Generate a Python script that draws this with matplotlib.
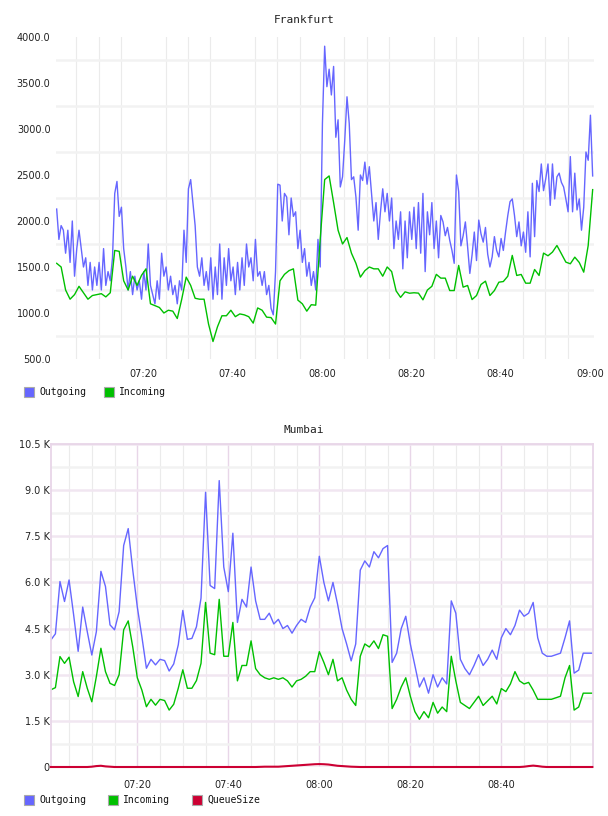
import numpy as np
import matplotlib
matplotlib.use('Agg')
import matplotlib.pyplot as plt
from matplotlib.patches import Rectangle

# --- Frankfurt: outgoing every 30 s, incoming every minute (start 07:00:36) ---
fra_out = [
    2130, 1800, 1950, 1900, 1650, 1900, 1550, 2000, 1400, 1700,
    1900, 1700, 1500, 1600, 1300, 1550, 1250, 1500, 1300, 1550,
    1250, 1700, 1300, 1450, 1350, 1600, 2300, 2430, 2050, 2150,
    1700, 1500, 1250, 1450, 1200, 1400, 1250, 1350, 1150, 1450,
    1250, 1750, 1300, 1200, 1100, 1350, 1150, 1650, 1400, 1500,
    1250, 1400, 1200, 1300, 1100, 1350, 1250, 1900, 1550, 2350,
    2450, 2200, 1950, 1500, 1400, 1600, 1300, 1450, 1250, 1600,
    1150, 1500, 1200, 1750, 1150, 1600, 1300, 1700, 1350, 1500,
    1200, 1550, 1250, 1600, 1300, 1750, 1500, 1600, 1350, 1800,
    1400, 1450, 1300, 1450, 1200, 1300, 1050, 980, 1450, 2400,
    2390, 2000, 2300, 2260, 1850, 2250, 2050, 2100, 1700, 1900,
    1550, 1700, 1400, 1550, 1300, 1450, 1250, 1800, 1500, 3060,
    3900, 3460, 3650, 3370, 3680, 2910, 3100, 2370, 2480, 2880,
    3350, 3060, 2450, 2480, 2260, 1900, 2500, 2440, 2640, 2400,
    2590, 2300, 2000, 2200, 1800, 2100, 2350, 2100, 2300, 2000,
    2250, 1700, 2000, 1800, 2100, 1480, 2000, 1600, 2100, 1800,
    2150, 1700, 2200, 1650, 2300, 1450, 2100, 1850, 2200, 1700,
    2000, 1600, 2060, 1990, 1840, 1930, 1790, 1680, 1540, 2500,
    2320, 1730, 1840, 1990, 1720, 1430, 1630, 1880, 1570, 2010,
    1860, 1770, 1930, 1640, 1500, 1610, 1830, 1680, 1610, 1810,
    1680, 1880, 2060, 2210, 2240, 2060, 1830, 1990, 1730, 1880,
    1660, 2100, 1610, 2410, 1830, 2440, 2320, 2620, 2330, 2460,
    2620, 2170, 2620, 2240, 2480, 2520, 2420, 2370, 2240, 2100,
    2700, 2100, 2520, 2120, 2240, 1900, 2150, 2750, 2660, 3150,
    2490,
]
fra_in = [
    1540, 1500, 1250, 1150, 1200, 1290, 1220, 1150, 1190, 1200,
    1210, 1175, 1220, 1680, 1670, 1350, 1250, 1400, 1300, 1410,
    1480, 1100, 1080, 1060, 1000, 1030, 1020, 940, 1150, 1390,
    1300, 1160, 1150, 1150, 880, 690, 850, 970, 970, 1030,
    960, 990, 980, 960, 890, 1055, 1030, 955, 950, 880,
    1350, 1420, 1460, 1480, 1140, 1100, 1020, 1090, 1085, 1800,
    2450, 2490, 2200, 1900, 1750, 1820, 1650, 1540, 1390, 1460,
    1500, 1480, 1480, 1400, 1500, 1450, 1240, 1170, 1230, 1215,
    1220, 1216, 1143, 1250, 1290, 1420, 1379, 1379, 1244, 1244,
    1517, 1281, 1299, 1146, 1190, 1310, 1346, 1190, 1244, 1335,
    1342, 1400, 1626, 1408, 1419, 1324, 1324, 1473, 1408, 1651,
    1622, 1662, 1734, 1644, 1553, 1535, 1607, 1549, 1444, 1734,
    2341,
]

# --- Mumbai: every minute from 07:01, values in thousands ---
mum_out = [
    4.13, 4.33, 6.03, 5.38, 6.08, 4.95, 3.76, 5.20, 4.40, 3.64,
    4.40, 6.36, 5.87, 4.62, 4.46, 5.05, 7.20, 7.75, 6.40, 5.20,
    4.24, 3.21, 3.50, 3.32, 3.50, 3.46, 3.12, 3.35, 3.97, 5.09,
    4.15, 4.18, 4.56, 5.49, 8.93, 5.90, 5.80, 9.31, 6.50, 5.70,
    7.60, 4.70, 5.45, 5.20, 6.50, 5.40, 4.80, 4.80, 5.00, 4.65,
    4.80, 4.50, 4.60, 4.35, 4.60, 4.80, 4.70, 5.20, 5.50, 6.85,
    6.00, 5.40, 6.00, 5.30, 4.50, 4.00, 3.45, 4.00, 6.40, 6.70,
    6.50, 7.00, 6.80, 7.10, 7.20, 3.40, 3.70, 4.50, 4.90, 4.00,
    3.30, 2.60, 2.90, 2.40, 3.00, 2.60, 2.90, 2.70, 5.40, 5.00,
    3.50, 3.20, 3.00, 3.30, 3.65, 3.30, 3.50, 3.80, 3.50, 4.20,
    4.50, 4.30, 4.60, 5.10, 4.90, 5.00, 5.35, 4.20, 3.70, 3.60,
    3.60, 3.65, 3.70, 4.20, 4.75, 3.05, 3.15, 3.70, 3.70, 3.70,
]
mum_in = [
    2.51, 2.58, 3.59, 3.37, 3.57, 2.77, 2.29, 3.10, 2.56, 2.12,
    2.94, 3.86, 3.10, 2.72, 2.65, 3.00, 4.46, 4.75, 3.90, 2.90,
    2.50, 1.96, 2.20, 2.01, 2.20, 2.16, 1.85, 2.04, 2.56, 3.16,
    2.56, 2.56, 2.81, 3.37, 5.35, 3.70, 3.65, 5.45, 3.60, 3.60,
    4.70, 2.80, 3.30, 3.30, 4.10, 3.20, 3.00, 2.90, 2.85, 2.90,
    2.85, 2.90, 2.80, 2.60, 2.80, 2.85, 2.95, 3.10, 3.10, 3.75,
    3.40, 3.00, 3.50, 2.80, 2.90, 2.50, 2.20, 2.00, 3.60, 4.00,
    3.90, 4.10, 3.85, 4.30, 4.25, 1.90, 2.20, 2.60, 2.90, 2.30,
    1.80, 1.55, 1.80, 1.60, 2.10, 1.75, 1.95, 1.80, 3.60, 2.80,
    2.10, 2.00, 1.90, 2.10, 2.30, 2.00, 2.15, 2.30, 2.05, 2.55,
    2.45, 2.70, 3.10, 2.80, 2.70, 2.75, 2.50, 2.20, 2.20, 2.20,
    2.20, 2.25, 2.30, 2.90, 3.30, 1.85, 1.95, 2.40, 2.40, 2.40,
]
mum_queue = [
    0, 0, 0, 0, 0, 0, 0, 0, 0, 0.01,
    0.03, 0.04, 0.02, 0.01, 0, 0, 0, 0, 0, 0,
    0, 0, 0, 0, 0, 0, 0, 0, 0, 0,
    0, 0, 0, 0, 0, 0, 0, 0, 0, 0,
    0, 0, 0, 0, 0, 0, 0.005, 0.01, 0.01, 0.01,
    0.01, 0.02, 0.03, 0.04, 0.05, 0.06, 0.07, 0.08, 0.09, 0.095,
    0.09, 0.08, 0.06, 0.04, 0.03, 0.02, 0.01, 0.005, 0, 0,
    0, 0, 0, 0, 0, 0, 0, 0, 0, 0,
    0, 0, 0, 0, 0, 0, 0, 0, 0, 0,
    0, 0, 0, 0, 0, 0, 0, 0, 0, 0,
    0, 0, 0, 0, 0.01, 0.03, 0.045, 0.03, 0.01, 0,
    0, 0, 0, 0, 0, 0, 0, 0, 0, 0,
]

# minutes after 07:00
fra_out_t = 0.6 + 0.5 * np.arange(len(fra_out))
fra_in_t = 0.6 + np.arange(len(fra_in))
mum_t = 1.0 + np.arange(len(mum_out))

time_ticks = [20, 40, 60, 80, 100, 120]
time_labels = ['07:20', '07:40', '08:00', '08:20', '08:40', '09:00']
fra_yticks = [500, 1000, 1500, 2000, 2500, 3000, 3500, 4000]
mum_yticks = [0, 1.5, 3.0, 4.5, 6.0, 7.5, 9.0, 10.5]
mum_ylabels = ['0', '1.5 K', '3.0 K', '4.5 K', '6.0 K', '7.5 K', '9.0 K', '10.5 K']

BLUE = '#6666ff'
GREEN = '#00c000'
RED = '#cc0033'
PINK = '#e8d6e8'

W, H = 608, 816
fig = plt.figure(figsize=(W / 100, H / 100), dpi=100)


def frac(x0, y0, x1, y1):
    # pixel box (top-left origin) -> figure fraction rect
    return [x0 / W, (H - y1) / H, (x1 - x0) / W, (y1 - y0) / H]


# --- Frankfurt ---
ax1 = fig.add_axes(frac(56, 37, 594, 359))
ax1.plot(fra_out_t, fra_out, color=BLUE, lw=1.0)
ax1.plot(fra_in_t, fra_in, color=GREEN, lw=1.0)
ax1.set_xlim(0.45, 120.9)
ax1.set_ylim(500, 4000)
ax1.set_yticks(fra_yticks)
ax1.set_yticklabels([f'{v:.1f}' for v in fra_yticks])
ax1.set_yticks(np.arange(750, 4000, 500), minor=True)
ax1.set_xticks(time_ticks)
ax1.set_xticklabels(time_labels)
ax1.set_xticks(np.arange(5, 121, 5), minor=True)
ax1.grid(which='minor', axis='x', color='#ebebeb', lw=0.8)
ax1.grid(which='minor', axis='y', color='#f2f2f2', lw=1.8)
ax1.set_axisbelow(True)
for s in ax1.spines.values():
    s.set_visible(False)
ax1.tick_params(which='both', length=0, labelsize=7, colors='#222222')
ax1.tick_params(axis='y', pad=4)
ax1.tick_params(axis='x', pad=7)
fig.text(304 / W, (H - 20) / H, 'Frankfurt', ha='center', va='center',
         family='DejaVu Sans Mono', fontsize=8, color='#222222')

# --- Mumbai ---
ax2 = fig.add_axes(frac(51, 444, 593, 767))
ax2.plot(mum_t, mum_out, color=BLUE, lw=1.0)
ax2.plot(mum_t, mum_in, color=GREEN, lw=1.0)
ax2.plot(mum_t, mum_queue, color=RED, lw=1.5, clip_on=False, zorder=4)
ax2.set_xlim(1.03, 120.15)
ax2.set_ylim(0, 10.5)
ax2.set_yticks(mum_yticks)
ax2.set_yticklabels(mum_ylabels)
ax2.set_yticks(np.arange(0.75, 10.5, 1.5), minor=True)
ax2.set_xticks(time_ticks[:5])
ax2.set_xticklabels(time_labels[:5])
ax2.set_xticks(np.arange(5, 120, 5), minor=True)
ax2.grid(which='minor', axis='x', color='#ebebeb', lw=0.8)
ax2.grid(which='minor', axis='y', color='#f2f2f2', lw=1.8)
ax2.grid(which='major', axis='x', color=PINK, lw=1.0)
ax2.grid(which='major', axis='y', color='#f1e6f1', lw=1.8)
ax2.set_axisbelow(True)
for name, s in ax2.spines.items():
    s.set_color(PINK)
    s.set_linewidth(1.3)
ax2.spines['bottom'].set_visible(False)
ax2.tick_params(which='both', length=0, labelsize=7, colors='#222222')
ax2.tick_params(axis='y', pad=1)
ax2.tick_params(axis='x', pad=9)
fig.text(304 / W, (H - 430) / H, 'Mumbai', ha='center', va='center',
         family='DejaVu Sans Mono', fontsize=8, color='#222222')


# --- legends ---
def legend_item(x, y, color, label):
    fig.add_artist(Rectangle((x / W, (H - y - 5) / H), 10 / W, 10 / H,
                             transform=fig.transFigure, facecolor=color,
                             edgecolor='#aaaaaa', lw=0.8))
    fig.text((x + 15) / W, (H - y) / H, label, ha='left', va='center',
             family='DejaVu Sans Mono', fontsize=7, color='#111111')


legend_item(24, 392, BLUE, 'Outgoing')
legend_item(104, 392, GREEN, 'Incoming')
legend_item(24, 800, BLUE, 'Outgoing')
legend_item(108, 800, GREEN, 'Incoming')
legend_item(192, 800, RED, 'QueueSize')

fig.savefig('out.png', dpi=100)
